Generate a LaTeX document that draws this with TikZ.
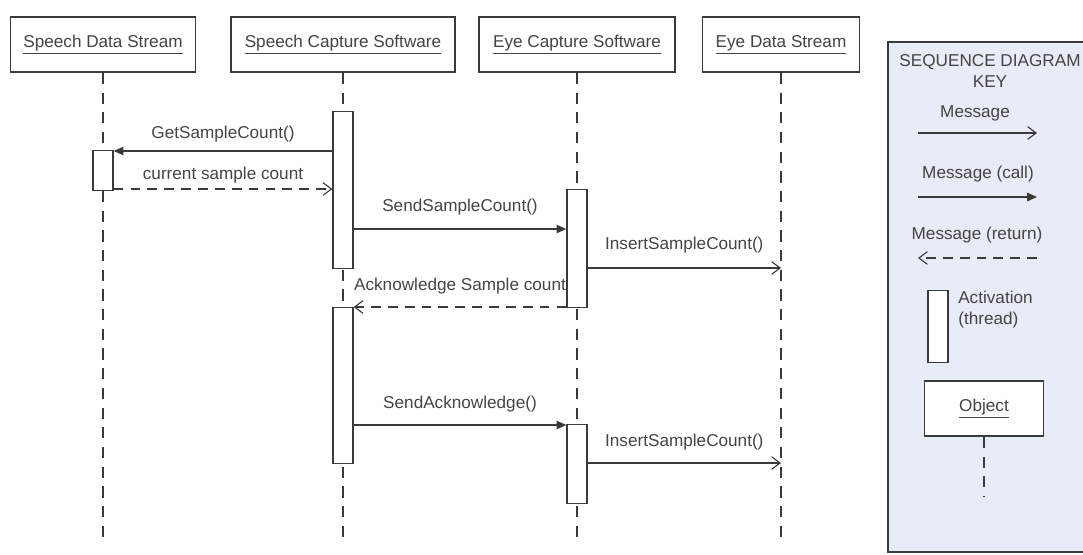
\documentclass[tikz,border=0pt]{standalone}
\usepackage{fontspec}
\setmainfont{Liberation Sans}
\usetikzlibrary{arrows.meta}

\definecolor{inkgray}{HTML}{3A3A3A}
\definecolor{textgray}{HTML}{444444}
\definecolor{keyfill}{HTML}{E7ECF6}

\newcommand\seqfont{\fontsize{12.2}{14.5}\selectfont}

\tikzset{
  object/.style={draw=inkgray, line width=1.2pt, fill=white,
    minimum height=1.375cm, inner sep=0pt, text=textgray, font=\seqfont},
  activation/.style={draw=inkgray, line width=0.9pt, fill=white,
    minimum width=0.5cm, inner sep=0pt, anchor=north},
  lifeline/.style={draw=inkgray, line width=0.9pt, dash pattern=on 8pt off 6pt},
  message/.style={draw=inkgray, line width=0.8pt, -{Straight Barb[length=6pt, width=9pt]}},
  call/.style={draw=inkgray, line width=0.8pt, -{Triangle[length=7pt, width=6pt]}},
  reply/.style={message, dash pattern=on 7pt off 5pt},
  label/.style={text=textgray, font=\seqfont, inner sep=0pt}
}

\begin{document}
\begin{tikzpicture}[x=0.025cm, y=-0.025cm]

  \useasboundingbox (0,0) rectangle (1083,554);
  \clip (0,0) rectangle (1083,554);

  % === OBJECTS ===
  \node[object, minimum width=4.625cm] (sds) at (103,44.5) {\underline{Speech Data Stream}};
  \node[object, minimum width=5.6cm]   (scs) at (343,44.5) {\underline{Speech Capture Software}};
  \node[object, minimum width=4.9cm]   (ecs) at (577,44.5) {\underline{Eye Capture Software}};
  \node[object, minimum width=3.925cm] (eds) at (781,44.5) {\underline{Eye Data Stream}};

  % message levels
  \coordinate (yEnd) at (0,540);
  \coordinate (yGet) at (0,151);
  \coordinate (yCur) at (0,189);
  \coordinate (ySend) at (0,229);
  \coordinate (yIns) at (0,268);
  \coordinate (yAck) at (0,307);
  \coordinate (ySendAck) at (0,425);
  \coordinate (yIns2) at (0,463);

  % Lifelines
  \draw[lifeline] (sds.south) -- (sds.south |- yEnd);
  \draw[lifeline] (scs.south) -- (scs.south |- yEnd);
  \draw[lifeline] (ecs.south) -- (ecs.south |- yEnd);
  \draw[lifeline] (eds.south) -- (eds.south |- yEnd);

  % Activations
  \node[activation, minimum height=1cm]     (sdA)  at (103,150) {};
  \node[activation, minimum height=3.925cm] (scA1) at (343,111) {};
  \node[activation, minimum height=3.9cm]   (scA2) at (343,307) {};
  \node[activation, minimum height=2.95cm]  (ecA1) at (577,189) {};
  \node[activation, minimum height=1.975cm] (ecA2) at (577,424) {};

  % === MESSAGES ===
  \draw[call] (scA1.west |- yGet) -- (sdA.east |- yGet)
    node[label, midway, above=6pt] {GetSampleCount()};
  \draw[reply] (sdA.east |- yCur) -- (scA1.west |- yCur)
    node[label, midway, above=4pt] {current sample count};
  \draw[call] (scA1.east |- ySend) -- (ecA1.west |- ySend)
    node[label, midway, above=9.5pt] {SendSampleCount()};
  \draw[message] (ecA1.east |- yIns) -- (eds.south |- yIns)
    node[label, midway, above=10pt] {InsertSampleCount()};
  \draw[reply] (ecA1.west |- yAck) -- (scA2.east |- yAck)
    node[label, midway, above=8.5pt] {Acknowledge Sample count};
  \draw[call] (scA2.east |- ySendAck) -- (ecA2.west |- ySendAck)
    node[label, midway, above=9pt] {SendAcknowledge()};
  \draw[message] (ecA2.east |- yIns2) -- (eds.south |- yIns2)
    node[label, midway, above=8.5pt] {InsertSampleCount()};

  % === KEY ===
  \draw[draw=inkgray, line width=1.2pt, fill=keyfill] (888,42) rectangle (1100,552);
  \node[label, align=center] (keyTitle) at (990,71) {SEQUENCE DIAGRAM\\KEY};

  \node[label] (kMsg) at (975,113) {Message};
  \coordinate (kMsgA) at (918,133);
  \coordinate (kMsgB) at (1037,133);
  \draw[message] (kMsgA) -- (kMsgB);

  \node[label] (kCall) at (978,174) {Message (call)};
  \coordinate (kCallA) at (918,197);
  \coordinate (kCallB) at (1037,197);
  \draw[call] (kCallA) -- (kCallB);

  \node[label] (kRet) at (977,235) {Message (return)};
  \coordinate (kRetA) at (1037,258);
  \coordinate (kRetB) at (918,258);
  \draw[reply] (kRetA) -- (kRetB);

  \node[activation, minimum height=1.8cm] (kAct) at (938,290) {};
  \node[label, align=left, anchor=north west] (kActTxt) at (958,291) {Activation\\(thread)};

  \node[object, minimum width=2.975cm] (kObj) at (984,408.5) {\underline{Object}};
  \coordinate (kObjEnd) at (984,497);
  \draw[lifeline] (kObj.south) -- (kObjEnd);

\end{tikzpicture}
\end{document}
